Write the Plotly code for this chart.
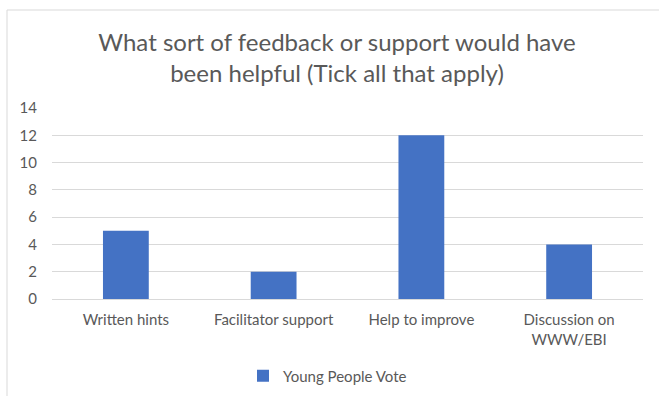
import plotly.graph_objects as go

categories = ["Written hints", "Facilitator support", "Help to improve", "Discussion on<br>WWW/EBI"]
votes = [5, 2, 12, 4]
series_name = "Young People Vote"
title_text = "What sort of feedback or support would have<br>been helpful (Tick all that apply)"
y_ticks = [0, 2, 4, 6, 8, 10, 12, 14]

W, H = 659, 396
L, R, T, B = 52, 16, 108, 97
pw, ph = W - L - R, H - T - B

def px_to_paper_x(px):
    return (px - L) / pw

def px_to_paper_y(py):
    return (H - B - py) / ph

FONT = "Lato, Carlito, 'Liberation Sans', sans-serif"
TXT = "#595959"
GRID = "#d9d9d9"

fig = go.Figure()
fig.add_trace(go.Bar(
    x=categories, y=votes, name=series_name,
    marker=dict(color="#4472C4", line=dict(width=0)),
    width=0.31, showlegend=True,
))

fig.update_layout(
    width=W, height=H,
    margin=dict(l=L, r=R, t=T, b=B, autoexpand=False),
    paper_bgcolor="white", plot_bgcolor="white",
    font=dict(family=FONT, color=TXT, size=15),
    title=dict(text=title_text, x=337 / W, xanchor="center",
               y=1 - 51 / H, yanchor="middle", yref="container",
               font=dict(family=FONT, size=24, color=TXT)),
    showlegend=True,
    legend=dict(orientation="h", x=px_to_paper_x(243), xanchor="left",
                y=px_to_paper_y(376), yanchor="middle",
                font=dict(family=FONT, size=15, color=TXT),
                itemwidth=30, bgcolor="rgba(0,0,0,0)"),
)
fig.update_yaxes(range=[0, 14], tickvals=y_ticks, showgrid=True, gridcolor=GRID,
                 gridwidth=1, zeroline=True, zerolinecolor=GRID, zerolinewidth=1,
                 showline=False, ticks="", ticklabelstandoff=14,
                 tickfont=dict(family=FONT, size=15, color=TXT), fixedrange=True)
fig.update_xaxes(showgrid=False, showline=False, ticks="",
                 tickfont=dict(family=FONT, size=15, color=TXT), ticklabelstandoff=10)

# chart border (partially cropped in the reference)
fig.add_shape(type="rect", xref="paper", yref="paper",
              x0=px_to_paper_x(7), x1=px_to_paper_x(W + 20),
              y0=px_to_paper_y(H + 20), y1=px_to_paper_y(10),
              line=dict(color=GRID, width=1), fillcolor="rgba(0,0,0,0)", layer="below")

fig.write_html("out.html", config={"displayModeBar": False},
               post_script="document.body.style.margin='0';document.body.style.overflow='hidden';")
